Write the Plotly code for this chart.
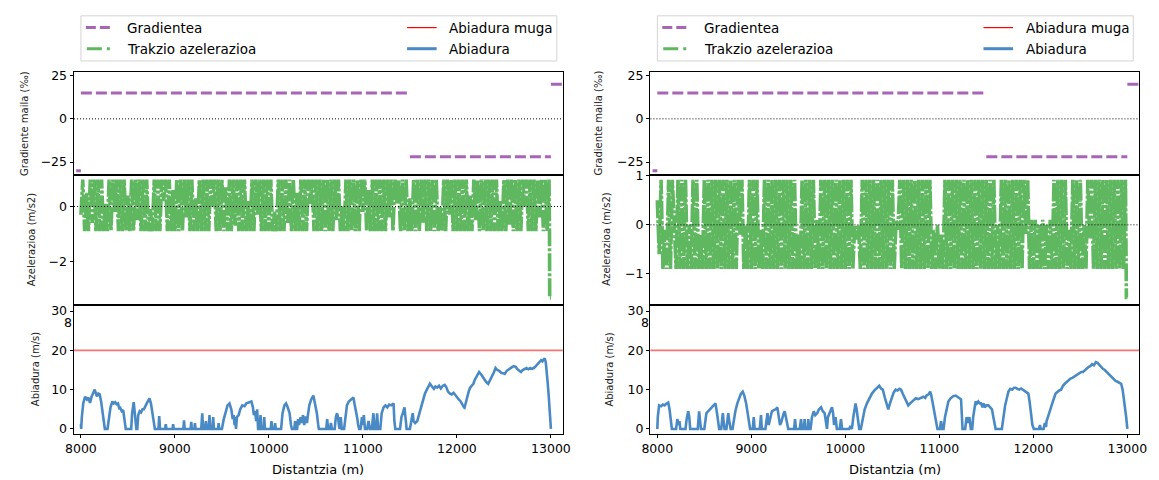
import plotly.graph_objects as go

# ---------------- data ----------------
distance_ticks = [8000, 9000, 10000, 11000, 12000, 13000]

# gradient segments (start, end, value in per mil)
grad_start = [7950, 8000, 11500, 13000]
grad_end = [8000, 11500, 13000, 13200]
grad_value = [-30, 15, -22, 20]

speed_limit = 20

left_speed_x = [8000, 8003, 8010, 8025, 8045, 8065, 8080, 8097, 8115, 8130, 8147, 8160, 8170, 8185, 8200, 8215, 8230, 8245, 8255, 8283,
                8295, 8315, 8335, 8350, 8365, 8380, 8395, 8410, 8420, 8435, 8450, 8462, 8477, 8535, 8545, 8562, 8575, 8590, 8600, 8610,
                8625, 8640, 8655, 8670, 8690, 8710, 8729, 8745, 8760, 8775, 8787, 8825, 8833, 8842, 8895, 8903, 8910, 8975, 8981, 8988,
                9090, 9097, 9104, 9168, 9174, 9180, 9207, 9213, 9220, 9280, 9291, 9300, 9320, 9330, 9340, 9360, 9368, 9376, 9400, 9407,
                9415, 9460, 9465, 9472, 9500, 9520, 9540, 9560, 9581, 9600, 9615, 9625, 9635, 9640, 9650, 9660, 9678, 9695, 9717, 9740,
                9760, 9790, 9814, 9830, 9840, 9853, 9865, 9875, 9885, 9900, 9911, 9920, 9945, 9950, 9958, 10020, 10027, 10035, 10060, 10066,
                10073, 10130, 10145, 10165, 10182, 10200, 10220, 10235, 10245, 10270, 10279, 10288, 10300, 10310, 10320, 10337, 10350, 10362, 10376, 10390,
                10405, 10415, 10430, 10450, 10473, 10490, 10510, 10525, 10531, 10610, 10620, 10630, 10650, 10660, 10670, 10700, 10712, 10725, 10735, 10745,
                10752, 10764, 10775, 10800, 10815, 10830, 10850, 10870, 10899, 10910, 10925, 10938, 10950, 10960, 10975, 10990, 11000, 11010, 11022, 11045,
                11060, 11075, 11095, 11105, 11112, 11122, 11140, 11151, 11162, 11185, 11200, 11220, 11240, 11260, 11280, 11300, 11326, 11335, 11345, 11395,
                11410, 11425, 11442, 11455, 11465, 11500, 11515, 11530, 11539, 11555, 11578, 11600, 11620, 11640, 11660, 11680, 11700, 11713, 11735, 11755,
                11771, 11790, 11810, 11829, 11850, 11870, 11888, 11905, 11926, 11945, 11965, 11985, 12004, 12020, 12040, 12060, 12075, 12081, 12095, 12110,
                12125, 12140, 12159, 12175, 12190, 12210, 12236, 12260, 12285, 12310, 12333, 12355, 12375, 12395, 12411, 12430, 12450, 12470, 12490, 12508,
                12530, 12550, 12570, 12590, 12605, 12625, 12645, 12665, 12682, 12700, 12720, 12740, 12760, 12780, 12800, 12818, 12840, 12860, 12880, 12895,
                12910, 12934, 12945, 12955, 12965, 12975, 12985, 12993, 13000]
left_speed_v = [1.2, 0, 3, 6.5, 8.2, 7.5, 8, 6.6, 8.3, 9, 10, 9, 8.3, 9, 8.8, 7, 4, 1, 0, 0,
                2.5, 5.5, 7, 6.5, 6.8, 6.3, 6.5, 5, 5.3, 4.5, 4.8, 3, 0, 0, 4, 6.8, 4, 0, 0, 3.5,
                4.5, 4.2, 5, 5, 6, 7, 7.8, 6.5, 4, 1.5, 0, 0, 3.3, 0, 0, 1.2, 0, 0, 1.2, 0,
                0, 2.2, 0, 0, 1.8, 0, 0, 1.5, 0, 0, 4, 0, 0, 2, 0, 0, 3.5, 0, 0, 3,
                0, 0, 1.5, 0, 0, 2.5, 4.5, 6, 6.5, 5, 2.5, 3.5, 1, 3, 0, 3, 3.5, 5, 6, 5.8,
                6.5, 6.8, 7, 5.5, 3.5, 4.5, 2, 5, 0, 0, 3.5, 0, 0, 3, 0, 0, 2, 0, 0, 1.5,
                0, 0, 4, 6, 6.5, 5.5, 4, 1, 0, 0, 2, 0, 0, 2.5, 1, 3, 1.5, 3.5, 1, 3.2,
                1.5, 3.5, 6, 7.5, 8.5, 6.5, 4, 1, 0, 0, 2.5, 0, 0, 1.5, 0, 0, 3, 4, 3, 1,
                0, 3, 0, 0, 4, 6, 7, 7.5, 8, 6.5, 5, 3, 1, 0, 0, 3, 1, 3.5, 0, 0,
                2, 0, 0, 2.5, 4, 0, 0, 4, 0, 0, 4, 5.5, 6, 5.5, 6.2, 6, 6.5, 2, 0, 0,
                3, 4, 5.5, 2.5, 0, 0, 2.5, 4, 2, 1.5, 2, 4, 6, 7.5, 9, 10, 11, 11.5, 10.8, 10.2,
                10.8, 10.5, 11, 10.3, 11, 11.2, 10.6, 9.5, 9, 8.8, 9.2, 8.5, 8, 7.5, 7, 6, 5.5, 5.4, 7, 8.5,
                9.5, 10.5, 11.2, 11.5, 12.5, 13.5, 14.5, 13.8, 12.8, 12, 11.5, 12.5, 13.5, 14.5, 15.5, 15, 14.8, 14.3, 14.2, 14,
                14.8, 15.2, 15.5, 15.8, 16, 15.8, 15.2, 14.8, 14.5, 15, 15.3, 15.5, 15.2, 15.5, 15.3, 15.5, 16, 16.5, 17, 17.5,
                17.2, 18, 17, 15, 12, 9, 5.5, 2.5, 0]

right_speed_x = [8000, 8005, 8019, 8040, 8060, 8077, 8095, 8116, 8130, 8145, 8155, 8200, 8213, 8225, 8235, 8245, 8300, 8312, 8329, 8340,
                 8350, 8430, 8437, 8445, 8455, 8464, 8500, 8510, 8522, 8540, 8560, 8580, 8600, 8619, 8635, 8650, 8658, 8680, 8690, 8697,
                 8705, 8715, 8735, 8745, 8755, 8765, 8780, 8800, 8815, 8830, 8851, 8870, 8890, 8909, 8925, 8945, 8960, 8975, 8987, 9015,
                 9026, 9035, 9090, 9103, 9112, 9150, 9160, 9172, 9185, 9200, 9210, 9219, 9240, 9260, 9277, 9295, 9305, 9316, 9330, 9345,
                 9355, 9375, 9393, 9455, 9465, 9475, 9515, 9529, 9540, 9560, 9567, 9575, 9600, 9606, 9614, 9630, 9645, 9664, 9680, 9700,
                 9720, 9742, 9760, 9780, 9795, 9805, 9815, 9835, 9858, 9870, 9880, 9896, 9910, 9940, 9954, 9965, 10040, 10051, 10070, 10085,
                 10100, 10109, 10120, 10135, 10148, 10165, 10185, 10206, 10230, 10255, 10283, 10310, 10335, 10361, 10380, 10399, 10420, 10440, 10457, 10475,
                 10495, 10515, 10535, 10555, 10575, 10593, 10610, 10630, 10650, 10670, 10690, 10709, 10730, 10750, 10775, 10806, 10830, 10850, 10864, 10885,
                 10903, 10915, 10930, 10941, 10955, 10968, 10980, 11005, 11019, 11028, 11045, 11060, 11078, 11096, 11120, 11145, 11173, 11195, 11215, 11231,
                 11240, 11247, 11275, 11290, 11305, 11320, 11335, 11350, 11360, 11372, 11386, 11400, 11415, 11430, 11444, 11460, 11470, 11483, 11500, 11522,
                 11540, 11560, 11575, 11590, 11599, 11665, 11680, 11700, 11720, 11735, 11755, 11775, 11795, 11812, 11830, 11850, 11870, 11889, 11910, 11930,
                 11947, 11960, 11975, 11990, 12005, 12060, 12070, 12080, 12110, 12122, 12135, 12141, 12155, 12168, 12180, 12195, 12215, 12237, 12255, 12275,
                 12296, 12315, 12335, 12355, 12373, 12395, 12415, 12435, 12451, 12470, 12490, 12510, 12528, 12550, 12570, 12590, 12605, 12625, 12645, 12665,
                 12683, 12700, 12720, 12740, 12760, 12780, 12800, 12820, 12838, 12855, 12875, 12896, 12915, 12934, 12950, 12963, 12975, 12988, 13000]
right_speed_v = [0, 3, 6, 5.8, 6.2, 6, 6.4, 6.7, 5, 2, 0, 0, 2.5, 1, 2, 0, 0, 2.5, 4.5, 3,
                 0, 0, 3, 4.5, 2, 0, 0, 2.5, 4, 4.5, 5, 5.5, 6.2, 6.5, 4, 1, 0, 0, 3.5, 4,
                 2, 0, 0, 3, 4, 2, 0, 0, 2.5, 4.5, 6.5, 8, 9, 9.5, 8.5, 6.5, 4.5, 1.5, 0, 0,
                 3, 0, 0, 3.5, 0, 0, 2.5, 4, 1, 2.5, 4, 4.5, 4.8, 5, 5.5, 3, 1, 1.5, 3, 4,
                 4.5, 2.5, 0, 0, 2.5, 0, 0, 2.5, 0, 0, 2.5, 0, 0, 2.5, 0, 0, 3, 4.5, 3.5, 4,
                 5, 5.5, 4.5, 4, 2, 0, 3, 4, 5.5, 4, 1, 3, 0, 0, 2.5, 0, 0, 0.5, 0, 3,
                 5.5, 6.5, 5, 2, 0, 0, 3, 5, 6.5, 7.8, 9, 9.8, 10.5, 11, 10.3, 10, 8, 6.5, 5, 6.5,
                 8, 9.3, 10, 9.8, 10.2, 10, 9, 8, 7, 6, 6.5, 7, 7.5, 7.8, 7.6, 8, 8.2, 7.9, 8.5, 8.8,
                 9.5, 8.5, 6.5, 5, 3, 1, 0, 0, 2, 0, 0, 3, 5.5, 7, 7.8, 8.3, 8.5, 8, 7.8, 7.5,
                 4, 0, 0, 3, 1.5, 3, 0, 0, 3, 5.5, 7, 6.5, 7, 6.5, 6.5, 5.5, 6.5, 5.5, 6, 6,
                 5.5, 5, 3, 1, 0, 0, 3, 6, 8, 9.5, 10.2, 10, 10.5, 10.5, 10.2, 10, 10.3, 10, 9.5, 9.2,
                 9, 7, 4, 1, 0, 0, 1, 0, 0, 1.5, 0.5, 2, 3, 4, 5, 6.5, 7.5, 9, 9.5, 9.8,
                 10, 11, 11.5, 12, 12.2, 12.8, 13, 13.3, 13.5, 14, 14.2, 14.5, 14.5, 15, 15.5, 15.8, 16, 16.5, 16.2, 17,
                 16.8, 16.3, 15.8, 15.3, 15, 14.5, 14, 13.5, 13, 12.5, 12.2, 12, 11.8, 11.5, 10, 8, 5.5, 3, 0]

# traction acceleration (m/s2), sampled every 20 m from 8000 m
acc_start = 8000
acc_step = 20
left_acc = [
    -0.3, 0.98, -0.9, 0.5, -0.9, 0.98, -0.6, 0.98, -0.9, 0.98,
    -0.9, 0.98, -0.9, 0.1, -0.9, 0.98, -0.9, 0.98, -0.2, 0.98,
    -0.9, 0.98, -0.9, 0.98, -0.9, 0.4, -0.9, 0.98, -0.9, 0.98,
    -0.5, 0.98, -0.9, 0.98, -0.9, 0.98, -0.9, -0.1, -0.9, 0.98,
    -0.9, 0.98, -0.9, 0.98, 0.2, 0.98, -0.9, 0.98, -0.9, 0.6,
    -0.9, 0.98, -0.9, 0.98, -0.9, 0.98, -0.4, 0.98, -0.9, 0.98,
    -0.9, 0.3, -0.9, 0.98, -0.9, 0.98, -0.9, 0.98, -0.9, 0.98,
    0.0, 0.98, -0.9, 0.98, -0.9, 0.98, -0.9, 0.7, -0.9, 0.98,
    -0.9, 0.98, -0.7, 0.98, -0.9, 0.98, -0.9, 0.98, -0.9, 0.2,
    -0.9, 0.98, -0.9, 0.98, -0.3, 0.98, -0.9, 0.98, -0.9, 0.98,
    -0.9, 0.98, -0.9, -0.2, -0.9, 0.98, -0.9, 0.98, -0.9, 0.98,
    -0.6, 0.98, -0.9, 0.98, -0.9, 0.5, -0.9, 0.98, -0.9, 0.98,
    -0.9, 0.98, 0.1, 0.98, -0.9, 0.98, -0.9, 0.98, -0.9, 0.98,
    -0.9, 0.98, -0.9, 0.98, -0.9, 0.98, -0.5, 0.98, -0.9, 0.0,
    -0.9, 0.98, -0.9, 0.98, -0.9, 0.98, -0.9, 0.98, -0.9, 0.98,
    -0.2, 0.98, -0.9, 0.6, -0.9, 0.98, -0.9, 0.98, -0.9, 0.98,
    -0.9, 0.98, -0.9, 0.98, -0.4, 0.98, -0.9, 0.98, 0.1, 0.98,
    -0.9, 0.98, -0.9, 0.98, -0.9, 0.3, -0.9, 0.98, -0.9, 0.98,
    -0.9, 0.98, -0.6, 0.98, -0.9, 0.98, -0.9, 0.98, -0.9, 0.98,
    -0.9, 0.0, -0.9, 0.98, -0.9, 0.98, -0.3, 0.98, -0.9, 0.98,
    -0.9, 0.98, -0.9, 0.98, -0.9, 0.98, -0.9, 0.4, -0.9, 0.98,
    -0.5, 0.98, -0.9, 0.98, -0.9, 0.98, -0.9, 0.98, -0.9, 0.98,
    -0.9, 0.98, -0.9, 0.2, -0.9, 0.98, -0.9, 0.98, -0.7, 0.98,
    -0.9, 0.98, -0.9, 0.98, -0.9, 0.98, 0.0, 0.98, -0.9, 0.98,
    -0.9, 0.98, -0.9, 0.98, -0.4, 0.98, -0.9, 0.98, -0.9, 0.98,
]
left_acc_tail_x = [12985, 12987, 13000]
left_acc_tail = [-0.9, -3.33, -3.33]

right_acc = [
    0.5, -0.6, 0.92, -0.9, -0.1, -0.9, 0.92, -0.9, 0.92, -0.2,
    -0.9, 0.92, -0.9, 0.92, -0.9, 0.92, -0.9, 0.0, -0.9, 0.92,
    -0.9, 0.92, -0.9, -0.2, -0.9, 0.92, -0.9, 0.92, -0.9, 0.92,
    -0.9, 0.92, -0.9, 0.92, -0.9, 0.92, -0.9, 0.92, -0.9, 0.92,
    -0.9, 0.92, -0.9, 0.92, -0.2, 0.92, -0.9, 0.0, -0.9, 0.92,
    -0.9, 0.92, -0.9, 0.92, -0.9, -0.1, -0.9, 0.92, -0.9, 0.92,
    -0.9, 0.92, -0.9, 0.92, -0.9, 0.92, -0.9, 0.92, -0.9, 0.92,
    -0.9, 0.92, -0.9, 0.92, -0.9, -0.2, -0.9, 0.92, -0.9, 0.92,
    -0.9, 0.92, -0.9, 0.92, -0.9, 0.1, -0.9, 0.92, -0.9, 0.92,
    -0.9, 0.92, -0.9, 0.92, -0.9, 0.92, -0.9, 0.92, -0.9, 0.92,
    -0.9, 0.92, -0.9, 0.92, -0.9, 0.0, -0.3, 0.0, -0.9, 0.92,
    -0.9, 0.92, -0.9, 0.92, -0.9, 0.92, -0.9, 0.92, -0.9, 0.92,
    -0.9, 0.92, -0.9, 0.92, -0.9, 0.92, -0.9, 0.1, -0.1, 0.92,
    -0.9, 0.92, -0.9, 0.92, -0.9, 0.92, -0.9, 0.92, -0.9, 0.92,
    -0.9, 0.92, -0.9, 0.92, -0.9, 0.92, -0.9, -0.1, -0.9, 0.0,
    -0.9, -0.2, -0.9, 0.92, -0.9, 0.92, -0.9, 0.92, -0.9, 0.92,
    -0.9, 0.92, -0.9, 0.92, -0.9, 0.92, -0.9, 0.92, -0.9, 0.92,
    -0.9, 0.92, -0.9, 0.92, -0.9, 0.92, -0.9, 0.92, -0.9, 0.92,
    -0.9, 0.0, -0.9, 0.92, -0.9, 0.92, -0.9, 0.92, -0.9, 0.92,
    -0.9, 0.92, -0.9, 0.92, -0.9, 0.92, -0.2, 0.92, -0.9, 0.1,
    -0.9, 0.1, -0.9, 0.0, -0.9, 0.1, -0.9, 0.0, -0.9, 0.1,
    -0.9, 0.92, -0.9, 0.92, -0.9, 0.92, -0.9, 0.92, -0.9, -0.1,
    -0.9, 0.92, -0.9, 0.92, -0.9, 0.92, -0.9, 0.0, -0.9, 0.92,
    -0.3, 0.92, -0.9, 0.92, -0.9, 0.92, -0.9, 0.92, -0.9, 0.92,
    -0.9, 0.92, -0.9, 0.92, -0.9, 0.92, -0.9, 0.92, -0.9, 0.92,
]
right_acc_tail_x = [12985, 12990, 13000]
right_acc_tail = [-0.9, -1.48, -1.48]

# ---------------- styling ----------------
W, H = 1159, 480
FONT = "DejaVu Sans"
PURPLE = "#a865b8"
GREEN = "#5fb760"
BLUE = "#4a8ac4"
RED = "rgba(245,70,70,0.75)"


def px_x(p):
    return p / W


def px_y(p):
    return 1 - p / H


cols = [
    dict(x0=66, x1=562, acc=left_acc, acc_tx=left_acc_tail_x, acc_t=left_acc_tail,
         sx=left_speed_x, sv=left_speed_v, mid_range=[-3.58, 1.155], mid_ticks=[-2, 0]),
    dict(x0=651, x1=1147, acc=right_acc, acc_tx=right_acc_tail_x, acc_t=right_acc_tail,
         sx=right_speed_x, sv=right_speed_v, mid_range=[-1.63, 1.02], mid_ticks=[-1, 0, 1]),
]
rows_px = [(66, 171), (171, 303.5), (303.5, 435)]
x_range = [7927, 13126]

fig = go.Figure()
layout = dict(width=W, height=H, margin=dict(l=0, r=0, t=0, b=0), autosize=False,
              paper_bgcolor="white", plot_bgcolor="white", showlegend=False,
              font=dict(family=FONT, size=12, color="black"))
shapes = []
annotations = []


def fmt(v):
    return ("\u2212" + str(abs(v))) if v < 0 else str(v)


for c, col in enumerate(cols):
    for r in range(3):
        idx = c * 3 + r + 1
        xn = "xaxis" if idx == 1 else f"xaxis{idx}"
        yn = "yaxis" if idx == 1 else f"yaxis{idx}"
        xr = "x" if idx == 1 else f"x{idx}"
        yr = "y" if idx == 1 else f"y{idx}"
        top, bot = rows_px[r]
        bottom_row = (r == 2)
        layout[xn] = dict(domain=[px_x(col["x0"]), px_x(col["x1"])], anchor=yr, range=x_range,
                          showline=True, mirror=True, linecolor="black", linewidth=1,
                          showgrid=False, zeroline=False,
                          ticks="outside" if bottom_row else "", ticklen=3.5, tickwidth=1,
                          tickcolor="black",
                          tickvals=distance_ticks if bottom_row else [],
                          ticktext=[str(v) for v in distance_ticks] if bottom_row else [],
                          showticklabels=bottom_row, tickfont=dict(size=12.5, family=FONT))
        if r == 0:
            yrange, yt = [-32.4, 27.3], [-25, 0, 25]
        elif r == 1:
            yrange, yt = col["mid_range"], col["mid_ticks"]
        else:
            yrange, yt = [-1.25, 31.6], [0, 10, 20, 30]
        layout[yn] = dict(domain=[px_y(bot), px_y(top)], anchor=xr, range=yrange,
                          showline=True, mirror=True, linecolor="black", linewidth=1,
                          showgrid=False, zeroline=False, ticks="outside", ticklen=3.5,
                          tickwidth=1, tickcolor="black", tickvals=yt,
                          ticktext=[fmt(v) for v in yt], tickfont=dict(size=12.5, family=FONT))

        if r == 0:
            gx, gy = [], []
            for s, e, v in zip(grad_start, grad_end, grad_value):
                gx += [s, e, None]
                gy += [v, v, None]
            fig.add_trace(go.Scatter(x=gx, y=gy, mode="lines", xaxis=xr, yaxis=yr,
                                     line=dict(color=PURPLE, width=3, dash="11px,4px"),
                                     name="Gradientea", hoverinfo="skip"))
            shapes.append(dict(type="line", xref=f"{xr} domain", yref=yr, x0=0, x1=1, y0=0, y1=0,
                               line=dict(color="black", width=1, dash="1px,2px"), layer="below"))
        elif r == 1:
            ax = [acc_start + acc_step * i for i in range(len(col["acc"]))] + col["acc_tx"]
            ay = list(col["acc"]) + col["acc_t"]
            fig.add_trace(go.Scatter(x=ax, y=ay, mode="lines", xaxis=xr, yaxis=yr,
                                     line=dict(color=GREEN, width=3.6, dash="18px,2px,3px,2px"),
                                     name="Trakzio azelerazioa", hoverinfo="skip"))
            shapes.append(dict(type="line", xref=f"{xr} domain", yref=yr, x0=0, x1=1, y0=0, y1=0,
                               line=dict(color="black", width=1, dash="1px,2px"), layer="above"))
        else:
            shapes.append(dict(type="line", xref=f"{xr} domain", yref=yr, x0=0, x1=1,
                               y0=speed_limit, y1=speed_limit,
                               line=dict(color=RED, width=1.8), layer="above"))
            fig.add_trace(go.Scatter(x=col["sx"], y=col["sv"], mode="lines", xaxis=xr, yaxis=yr,
                                     line=dict(color=BLUE, width=2.6),
                                     name="Abiadura", hoverinfo="skip"))

    # y-axis titles
    off = col["x0"] - 66
    titles = [("Gradiente maila (\u2030)", 15, 118.5), ("Azelerazioa (m/s2)", 23, 237),
              ("Abiadura (m/s)", 27, 369.5)]
    for txt, xpx, ypx in titles:
        annotations.append(dict(text=txt, x=px_x(xpx + off - 2 * c), y=px_y(ypx), xref="paper",
                                yref="paper", showarrow=False, textangle=-90,
                                font=dict(size=10, family=FONT, color="#222"),
                                xanchor="center", yanchor="middle"))
    # x-axis title
    annotations.append(dict(text="Distantzia (m)", x=px_x((col["x0"] + col["x1"]) / 2),
                            y=px_y(471), xref="paper", yref="paper", showarrow=False,
                            font=dict(size=13, family=FONT), xanchor="center", yanchor="middle"))
    # stray clipped tick label
    annotations.append(dict(text="8", x=px_x(60 + off), y=px_y(322), xref="paper",
                            yref="paper", showarrow=False, font=dict(size=12.5, family=FONT),
                            xanchor="center", yanchor="middle"))

    # manual legend (box + samples + labels)
    lx0, lx1 = 73 + off, 556 + off
    shapes.append(dict(type="rect", xref="paper", yref="paper", x0=px_x(lx0), x1=px_x(lx1),
                       y0=px_y(55), y1=px_y(9), line=dict(color="#d4d4d4", width=1),
                       fillcolor="white"))
    items = [
        (78, 103, 21, dict(color=PURPLE, width=3, dash="10px,4px"), 118, "Gradientea"),
        (79, 104, 42.5, dict(color=GREEN, width=3, dash="15px,5px,3px,5px"), 118, "Trakzio azelerazioa"),
        (404, 434, 21, dict(color="red", width=1.2), 445, "Abiadura muga"),
        (404, 434, 42.5, dict(color=BLUE, width=3), 445, "Abiadura"),
    ]
    for sx0, sx1, sy, ln, tx, label in items:
        shapes.append(dict(type="line", xref="paper", yref="paper", x0=px_x(sx0 + off),
                           x1=px_x(sx1 + off), y0=px_y(sy), y1=px_y(sy), line=ln))
        annotations.append(dict(text=label, x=px_x(tx + off), y=px_y(sy), xref="paper",
                                yref="paper", showarrow=False, xanchor="left", yanchor="middle",
                                font=dict(size=13.5, family=FONT)))

layout["shapes"] = shapes
layout["annotations"] = annotations
fig.update_layout(**layout)
fig.write_html("out.html")
